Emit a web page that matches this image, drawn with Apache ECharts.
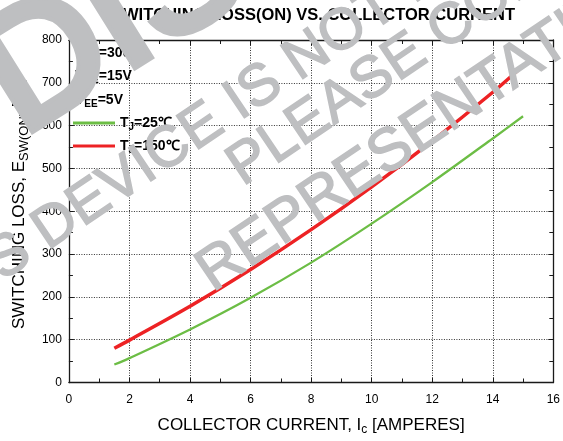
<!DOCTYPE html>
<html><head><meta charset="utf-8">
<script src="https://cdn.jsdelivr.net/npm/echarts@6/dist/echarts.min.js"></script>
<style>html,body{margin:0;padding:0;background:#fff}#c{width:563px;height:441px}</style>
</head><body><div id="c"></div>
<script>
// ---- data ----
const current = [1.5, 2, 4, 6, 8, 10, 12, 14, 15];
const loss25 = [42, 57, 124, 198, 280, 371, 468, 570, 622];
const loss150 = [80, 99, 178, 264, 357, 457, 564, 678, 740];
const seriesNames = ['{m|T}{s|J}{m|=25℃}', '{m|T}{s|J}{m|=150℃}'];
const conditions = ['{m|V}{s|CC}{m|=300V}', '{m|V}{s|GE}{m|=15V}', '{m|V}{s|EE}{m|=5V}'];
const titleText = 'SWITCHING LOSS(ON) VS. COLLECTOR CURRENT';
const xName = '{m|COLLECTOR CURRENT, I}{s|c}{m| [AMPERES]}';
const yName = '{m|SWITCHING LOSS, E}{s|SW(ON)}{m| [µJ]}';
const watermark = ['DISCONTINUED', 'THIS', 'DEVICE IS NOT RECOMMENDED', 'PLEASE CONTACT', 'REPRESENTATIVE'];

const FONT = 'Arial, "Liberation Sans", sans-serif';
const GRAY = '#bebfc1';
const GREEN = '#6cbd45', RED = '#ed2224';

function wm(text, bx, by, f, deg, lw, align) {
  const t = deg * Math.PI / 180, s = Math.sin(t), c = Math.cos(t);
  const k = 0.3465 * f;
  return { type: 'text', x: bx - k * s, y: by - k * c, rotation: t, z: 100, silent: true,
    style: { text: text, font: f + 'px ' + FONT, fill: GRAY, stroke: GRAY, lineWidth: lw,
      align: align || 'left', verticalAlign: 'middle' } };
}
function along(bx, by, d, deg) {
  const t = deg * Math.PI / 180;
  return [bx + d * Math.cos(t), by - d * Math.sin(t)];
}
const ANG = 34;
const devPt = [50, 254];
const thisPt = along(devPt[0], devPt[1], -0.278 * 58, ANG);

const richSmall = (mSize, sSize, lh, pad, bold) => ({
  m: { fontSize: mSize, lineHeight: lh, verticalAlign: 'middle', fontFamily: FONT, fontWeight: bold ? 'bold' : 'normal', color: '#000' },
  s: { fontSize: sSize, lineHeight: sSize, padding: [pad, 0, 0, 0], verticalAlign: 'middle', fontFamily: FONT, fontWeight: bold ? 'bold' : 'normal', color: '#000' }
});

const axisCommon = {
  type: 'value',
  axisLine: { show: true, onZero: false, lineStyle: { color: '#1a1a1a', width: 1.3 } },
  axisTick: { show: true, inside: true, length: 5, lineStyle: { color: '#1a1a1a' } },
  minorTick: { show: true, splitNumber: 2, length: 4, lineStyle: { color: '#1a1a1a' } },
  axisLabel: { color: '#000', fontSize: 12, fontFamily: FONT }
};
const gridLine = { show: true, lineStyle: { color: '#333', type: [1, 1.5], width: 1 } };

const chart = echarts.init(document.getElementById('c'), null, { renderer: 'canvas' });
chart.setOption({
  animation: false,
  backgroundColor: '#fff',
  title: [
    { text: titleText, left: 112, top: 6, padding: 0,
      textStyle: { fontSize: 16.5, fontWeight: 'bold', fontFamily: FONT, color: '#000', lineHeight: 18 } },
    { text: conditions.join('\n'), left: 75, top: 41, padding: 0,
      textStyle: { rich: richSmall(14, 10, 23.5, 8, true) } }
  ],
  legend: {
    orient: 'vertical', left: 73, top: 114, padding: 0, itemGap: 5,
    itemWidth: 42, itemHeight: 3, icon: 'rect',
    data: seriesNames,
    textStyle: { rich: richSmall(14, 10, 20, 8, true) }
  },
  grid: { left: 64, right: 6, top: 40, bottom: 57 },
  xAxis: [
    Object.assign({}, axisCommon, { min: 0, max: 16, interval: 2, position: 'bottom',
      axisLabel: Object.assign({}, axisCommon.axisLabel, { margin: 11 }),
      splitLine: gridLine,
      name: xName, nameLocation: 'middle', nameGap: 34,
      nameTextStyle: { rich: richSmall(17, 12, 17, 10, false) } }),
    Object.assign({}, axisCommon, { min: 0, max: 16, interval: 2, position: 'top',
      axisLabel: { show: false }, splitLine: { show: false } })
  ],
  yAxis: [
    Object.assign({}, axisCommon, { min: 0, max: 800, interval: 100, position: 'left',
      axisLabel: Object.assign({}, axisCommon.axisLabel, { margin: 7 }),
      splitLine: gridLine,
      name: yName, nameLocation: 'middle', nameGap: 39,
      nameTextStyle: { rich: richSmall(17, 13, 17, 10, false), padding: [0, 0, 0, 14] } }),
    Object.assign({}, axisCommon, { min: 0, max: 800, interval: 100, position: 'right',
      axisLabel: { show: false }, splitLine: { show: false } })
  ],
  series: [
    { name: seriesNames[0], type: 'line', data: current.map((x, i) => [x, loss25[i]]),
      smooth: 0.3, showSymbol: false, color: GREEN, lineStyle: { color: GREEN, width: 2.3 } },
    { name: seriesNames[1], type: 'line', data: current.map((x, i) => [x, loss150[i]]),
      smooth: 0.3, showSymbol: false, color: RED, lineStyle: { color: RED, width: 3.5 } }
  ],
  graphic: [
    wm(watermark[0], 28, 146, 165, 32, 9),
    wm(watermark[1], thisPt[0], thisPt[1], 58, ANG, 1.5, 'right'),
    wm(watermark[2], devPt[0], devPt[1], 58, ANG, 1.5),
    wm(watermark[3], 245, 190, 58, ANG, 1.5),
    wm(watermark[4], 215, 296, 60, ANG, 1.5)
  ]
});
</script></body></html>
